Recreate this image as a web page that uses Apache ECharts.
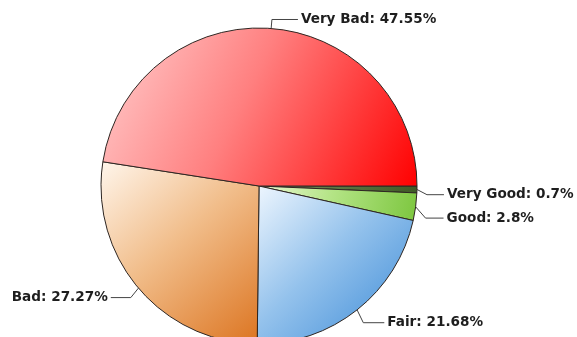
<!DOCTYPE html>
<html>
<head>
<meta charset="utf-8">
<script src="https://cdn.jsdelivr.net/npm/echarts@6/dist/echarts.min.js"></script>
<style>
  html, body { margin: 0; padding: 0; background: #ffffff; }
  #chart { width: 577px; height: 337px; }
</style>
</head>
<body>
<div id="chart"></div>
<script>
// Rating categories, in drawing order (clockwise from 3 o'clock)
const categories = ['Very Good', 'Good', 'Fair', 'Bad', 'Very Bad'];
// Share of responses, percent
const shares = [0.7, 2.8, 21.68, 27.27, 47.55];
// Gradient stops per slice: light corner, middle, saturated corner
const lightColors = ['#889a6c', '#eaf8d4', '#eef6fe', '#fff6ec', '#ffd0d0'];
const midColors   = ['#5f7a45', '#b4e486', '#94c2ec', '#f1bd8a', '#ff7f7f'];
const darkColors  = ['#3f5a26', '#7cc63e', '#3888d6', '#dc7420', '#ff0000'];

function gradient(i) {
  return new echarts.graphic.LinearGradient(0, 0, 1, 1, [
    { offset: 0, color: lightColors[i] },
    { offset: 0.45, color: midColors[i] },
    { offset: 1, color: darkColors[i] }
  ]);
}

// Horizontal leg of each leader line (px)
const leaderLength2 = [17, 18, 21, 20, 26];
// Downward nudge of each label (px); its leader line's elbow follows it
const labelNudge = [5, 10, 5, 3, 1];

const chart = echarts.init(document.getElementById('chart'), null, { renderer: 'canvas' });

chart.setOption({
  animation: false,
  backgroundColor: '#ffffff',
  series: [{
    type: 'pie',
    center: [259, 186],
    radius: 158,
    startAngle: 0,
    clockwise: true,
    avoidLabelOverlap: true,
    itemStyle: {
      borderColor: '#2e2622',
      borderWidth: 1
    },
    label: {
      show: true,
      formatter: '{b}: {c}%',
      fontFamily: 'DejaVu Sans, Verdana, sans-serif',
      fontWeight: 'bold',
      fontSize: 13.6,
      color: '#1e1e1e',
      width: 170,
      overflow: 'none',
      distanceToLabelLine: 3
    },
    labelLine: {
      show: true,
      length: 10,
      length2: 24,
      lineStyle: { color: '#444444', width: 1 }
    },
    labelLayout: function (params) {
      const dy = labelNudge[params.dataIndex];
      const out = { dy: dy };
      const pts = params.labelLinePoints;
      if (pts && pts.length === 3) {
        out.labelLinePoints = [
          [pts[0][0], pts[0][1]],
          [pts[1][0], pts[1][1] + dy],
          [pts[2][0], pts[2][1] + dy]
        ];
      }
      return out;
    },
    data: categories.map((name, i) => ({
      name: name,
      value: shares[i],
      itemStyle: { color: gradient(i) },
      labelLine: { length2: leaderLength2[i] }
    }))
  }]
});
</script>
</body>
</html>
